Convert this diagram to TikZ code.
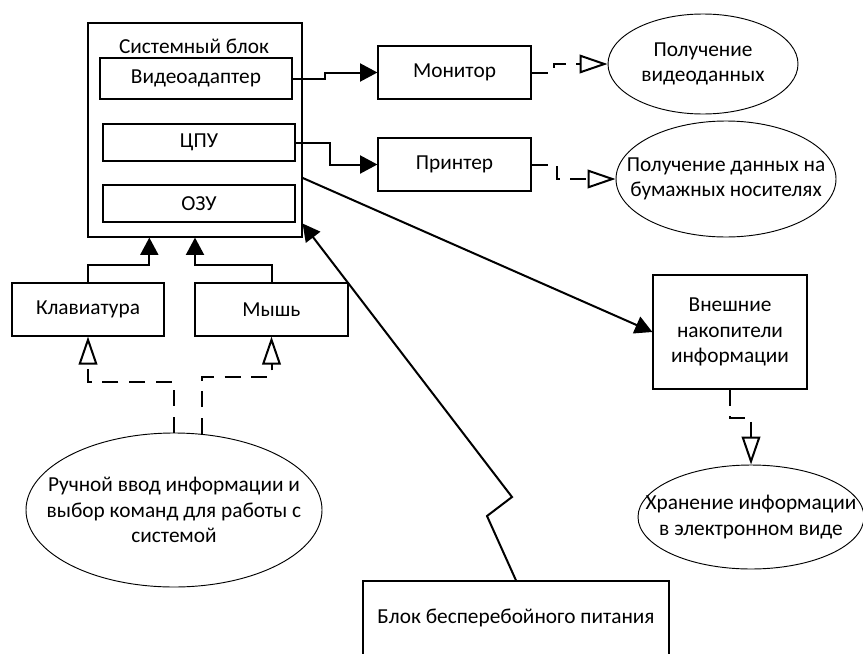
\documentclass[tikz,border=0pt]{standalone}
\usepackage{fontspec}
\setmainfont{Carlito}
\usetikzlibrary{arrows.meta}
\usetikzlibrary{shapes.geometric}

\begin{document}
\begin{tikzpicture}[x=0.75pt, y=-0.75pt,
				   every node/.style={font=\fontsize{16}{19}\selectfont, align=center, inner sep=0pt},
				   box/.style={draw=black, line width=0.9pt, rectangle},
				   oval/.style={draw=black, line width=0.7pt, ellipse},
				   link/.style={line width=1.5pt, -{Triangle[length=13pt, width=13.5pt]}},
				   dlink/.style={line width=1.5pt, dash pattern=on 12pt off 8pt, -{Triangle[open, length=21pt, width=14pt]}}]
\useasboundingbox (0,0) rectangle (863,653);
\clip (0,0) rectangle (863,653);
% system block
\node[box, minimum width=160.5pt, minimum height=160.5pt] (sys) at (195,130) {};
\node (systitle) at (194,46) {Системный блок};
\node[box, minimum width=144pt, minimum height=30.75pt] (va) at (196,78.5) {Видеоадаптер};
\node[box, minimum width=144pt, minimum height=27.75pt] (cpu) at (199,142.5) {ЦПУ};
\node[box, minimum width=144pt, minimum height=27.75pt] (ozu) at (199,203.5) {ОЗУ};
% devices
\node[box, minimum width=114.75pt, minimum height=39.75pt] (mon) at (454.5,72.5) {Монитор};
\node[box, minimum width=114.75pt, minimum height=39.75pt] (prn) at (454.5,164.5) {Принтер};
\node[box, minimum width=115.5pt, minimum height=85.5pt] (vn) at (730,332) {Внешние\\накопители\\информации};
\node[box, minimum width=114pt, minimum height=39.75pt] (kl) at (88,309.5) {Клавиатура};
\node[box, minimum width=114.75pt, minimum height=39.75pt] (ms) at (271.5,309.5) {Мышь};
\node[box, minimum width=229.5pt, minimum height=55.5pt] (ups) at (516,618) {Блок бесперебойного питания};
% functions (text as centre label, so the oval keeps its size)
\node[oval, minimum width=142.5pt, minimum height=75pt, label={center:Получение\\видеоданных}] (e1) at (703,64) {};
\node[oval, minimum width=165pt, minimum height=87pt, label={center:Получение данных на\\бумажных носителях}] (e2) at (726,179) {};
\node[oval, minimum width=169.5pt, minimum height=78pt, label={center:Хранение информации\\в электронном виде}] (e3) at (751,517) {};
\node[oval, minimum width=222pt, minimum height=115.5pt, label={center:Ручной ввод информации и\\выбор команд для работы с\\системой}] (ru) at (174,510) {};
% connections
\draw[link] (va.east) -- ++(32,0) |- (mon.west);
\draw[link] (cpu.east) -- ++(34,0) |- (prn.west);
\draw[link] (sys.-24) -- (vn.west);
\draw[link] (ups.north) -- (487,516) -- (512,497) -- (sys.-41);
\draw[link] (kl.north) -- ++(0,-17) -| (sys.-113);
\draw[link] (ms.north) -- ++(0,-17) -| (sys.south);
\draw[dlink] (mon.east) -- ++(22,0) |- (e1.west);
\draw[dlink] (prn.east) -- ++(25,0) |- (e2.west);
\draw[dlink] (vn.south) -- ++(0,28) -| (e3.north);
\draw[dlink] (ru.north) -- ++(0,-51) -| (kl.south);
\draw[dlink] (ru.70) -- ++(0,-57) -| (ms.south);
\end{tikzpicture}
\end{document}
